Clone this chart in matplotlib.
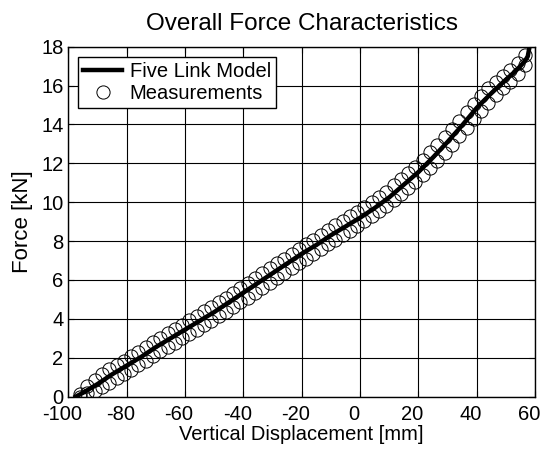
import numpy as np
import matplotlib
matplotlib.use("Agg")
import matplotlib.pyplot as plt
import matplotlib.transforms as mtransforms

plt.rcParams['font.family'] = ['Liberation Sans', 'DejaVu Sans']
plt.rcParams['axes.unicode_minus'] = False

# five link model curve
model_x = [-97.5, -95, -90, -85, -80, -75, -70, -65, -60, -55, -50, -45, -40,
           -35, -30, -25, -20, -15, -10, -5, 0, 5, 10, 15, 20, 25, 30, 35,
           40, 45, 50, 53, 55, 56.5, 57.5, 58, 58.2, 58.3]
model_y = [0.0, 0.2, 0.65, 1.15, 1.6, 2.05, 2.55, 3.0, 3.45, 3.9, 4.35, 4.85,
           5.35, 5.85, 6.35, 6.85, 7.35, 7.8, 8.3, 8.75, 9.2, 9.7, 10.25,
           10.9, 11.55, 12.3, 13.1, 13.95, 14.85, 15.6, 16.3, 16.7, 17.0,
           17.25, 17.5, 17.9, 18.5, 19.0]

# measurements, two branches of the hysteresis loop
meas_x = [-96, -93.5, -91, -88.5, -86, -83.5, -81, -78.5, -76, -73.5, -71,
          -68.5, -66, -63.5, -61, -58.5, -56, -53.5, -51, -48.5, -46, -43.5,
          -41, -38.5, -36, -33.5, -31, -28.5, -26, -23.5, -21, -18.5, -16,
          -13.5, -11, -8.5, -6, -3.5, -1, 1.5, 4, 6.5, 9, 11.5, 14, 16.5, 19,
          21.5, 24, 26.5, 29, 31.5, 34, 36.5, 39, 41.5, 44, 46.5, 49, 51.5,
          54, 56.5]
upper_y = [0.15, 0.53, 0.86, 1.15, 1.4, 1.64, 1.86, 2.09, 2.31, 2.55, 2.8,
           3.03, 3.26, 3.49, 3.71, 3.94, 4.16, 4.39, 4.61, 4.85, 5.1, 5.35,
           5.6, 5.85, 6.1, 6.35, 6.6, 6.85, 7.1, 7.35, 7.6, 7.84, 8.06, 8.3,
           8.56, 8.81, 9.04, 9.27, 9.51, 9.76, 10.01, 10.27, 10.55, 10.86,
           11.18, 11.51, 11.83, 12.18, 12.56, 12.95, 13.35, 13.76, 14.19,
           14.63, 15.07, 15.46, 15.85, 16.18, 16.5, 16.82, 17.15, 17.55]
lower_y = [0.0, 0.18, 0.31, 0.5, 0.72, 0.95, 1.16, 1.39, 1.61, 1.85, 2.1,
           2.33, 2.55, 2.78, 3.0, 3.23, 3.45, 3.68, 3.9, 4.13, 4.37, 4.62,
           4.86, 5.1, 5.35, 5.6, 5.85, 6.1, 6.35, 6.6, 6.85, 7.1, 7.33, 7.57,
           7.83, 8.08, 8.31, 8.54, 8.78, 9.02, 9.27, 9.53, 9.8, 10.1, 10.41,
           10.73, 11.04, 11.38, 11.75, 12.14, 12.54, 12.95, 13.38, 13.82,
           14.28, 14.7, 15.12, 15.5, 15.86, 16.2, 16.57, 17.05]

fig = plt.figure(figsize=(5.41, 4.53), dpi=100)
ax = fig.add_axes([0.1264, 0.1243, 0.8626, 0.7728])

ax.plot(model_x, model_y, color='black', lw=3.2, label='Five Link Model', zorder=3)
mx = meas_x + meas_x[::-1]
my = lower_y + upper_y[::-1]
ax.plot(mx, my, ls='none', marker='o', ms=9.5, mfc='none', mec='black',
        mew=0.7, label='Measurements', zorder=4)

ax.set_xlim(-100, 60)
ax.set_ylim(0, 18)
ax.set_xticks(np.arange(-100, 61, 20))
ax.set_yticks(np.arange(0, 19, 2))
ax.grid(True, color='black', lw=0.8)
ax.tick_params(direction='in', top=True, right=True, labelsize=14.5, length=4)
ax.tick_params(axis='x', pad=6)
for s in ax.spines.values():
    s.set_linewidth(1)

# the reference draws x tick labels slightly left of their ticks
shift = mtransforms.ScaledTranslation(-0.06, 0, fig.dpi_scale_trans)
for lab in ax.get_xticklabels():
    lab.set_transform(lab.get_transform() + shift)

ax.set_title('Overall Force Characteristics', fontsize=17.5, pad=12)
ax.set_xlabel('Vertical Displacement [mm]', fontsize=14.5, labelpad=1)
ax.set_ylabel('Force [kN]', fontsize=16, labelpad=6)

leg = ax.legend(loc='upper left', fontsize=14.5, frameon=True, fancybox=False,
                edgecolor='black', framealpha=1, borderpad=0.25,
                handlelength=1.9, handletextpad=0.4, labelspacing=0.15,
                borderaxespad=0.5)
leg.get_frame().set_linewidth(1)

fig.savefig('out.png', dpi=100)
